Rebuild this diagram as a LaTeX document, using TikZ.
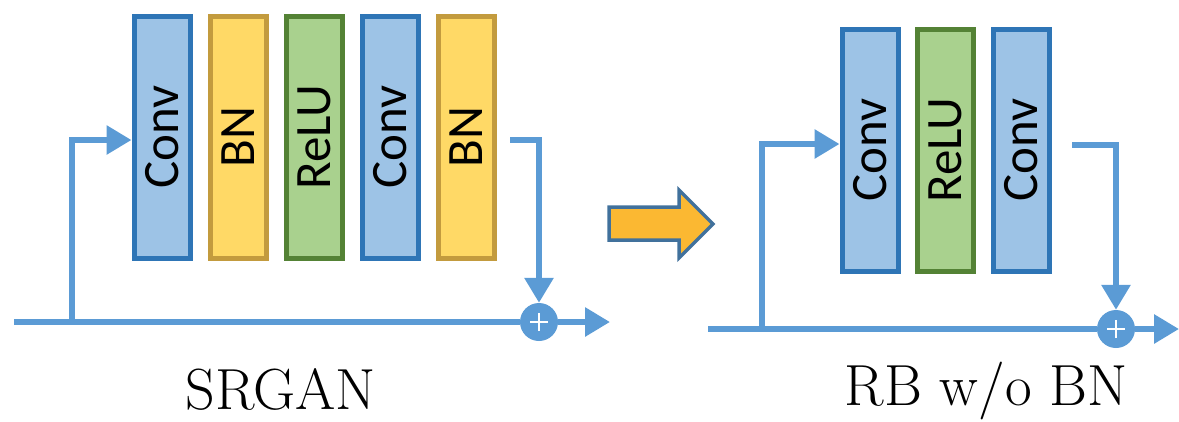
\documentclass[tikz,border=0pt]{standalone}
\usepackage{fontspec}
\newfontfamily\blockfont{Carlito}
\usetikzlibrary{arrows.meta}

\definecolor{convfill}{HTML}{9DC3E6}
\definecolor{convline}{HTML}{2E75B6}
\definecolor{bnfill}{HTML}{FFD966}
\definecolor{bnline}{HTML}{C39B3E}
\definecolor{relufill}{HTML}{A9D18E}
\definecolor{reluline}{HTML}{548235}
\definecolor{flow}{HTML}{5B9BD5}
\definecolor{bigfill}{HTML}{FBB832}
\definecolor{bigline}{HTML}{41719C}

\begin{document}
\begin{tikzpicture}[x=1pt, y=-1pt,
    layer/.style={rectangle, line width=5pt, minimum width=56pt, minimum height=242pt,
        inner sep=0pt, font=\blockfont\fontsize{51}{60}\selectfont},
    conv/.style={layer, fill=convfill, draw=convline},
    bn/.style={layer, fill=bnfill, draw=bnline},
    relu/.style={layer, fill=relufill, draw=reluline},
    flowline/.style={flow, line width=6pt},
    flowarrow/.style={flowline, -{Triangle[length=25pt, width=28pt]}},
    sum/.style={circle, fill=flow, minimum size=38pt, inner sep=0pt,
        path picture={\draw[white, line width=2.5pt]
            ([xshift=-9pt]path picture bounding box.center) -- ([xshift=9pt]path picture bounding box.center)
            ([yshift=-9pt]path picture bounding box.center) -- ([yshift=9pt]path picture bounding box.center);}},
    caption/.style={anchor=base, inner sep=0pt, font=\fontsize{58}{68}\selectfont}]
    \useasboundingbox (0,0) rectangle (1179,421);

    % SRGAN residual block
    \node[conv] (conv1a) at (162,137) {\rotatebox{90}{Conv}};
    \node[bn]   (bn1a)   at (238,137) {\rotatebox{90}{BN}};
    \node[relu] (relu1)  at (314,137) {\rotatebox{90}{ReLU}};
    \node[conv] (conv1b) at (390,137) {\rotatebox{90}{Conv}};
    \node[bn]   (bn1b)   at (466,137) {\rotatebox{90}{BN}};

    \coordinate (in1) at (14,322);
    \coordinate (br1) at (72,322);
    \coordinate (tap1) at (510,140);
    \coordinate (out1) at (610,322);
    \node[sum] (sum1) at (539,322) {};

    \draw[flowline] (in1) -- (sum1);
    \draw[flowarrow] (sum1) -- (out1);
    \draw[flowarrow] (br1) |- ([yshift=-3pt]conv1a.west);
    \draw[flowarrow] (tap1) -| (sum1);

    \node[caption] (srgan) at (281,409) {SRGAN};

    % big arrow
    \draw[fill=bigfill, draw=bigline, line width=3.5pt, line join=miter]
        (609,207) -- (679,207) -- (679,190) -- (713,224) -- (679,258) -- (679,240) -- (609,240) -- cycle;

    % residual block without BN
    \node[conv] (conv2a) at (870,150) {\rotatebox{90}{Conv}};
    \node[relu] (relu2)  at (945,150) {\rotatebox{90}{ReLU}};
    \node[conv] (conv2b) at (1021,150) {\rotatebox{90}{Conv}};

    \coordinate (in2) at (708,329);
    \coordinate (br2) at (762,329);
    \coordinate (tap2) at (1072,145);
    \coordinate (out2) at (1179,329);
    \node[sum] (sum2) at (1116,329) {};

    \draw[flowline] (in2) -- (sum2);
    \draw[flowarrow] (sum2) -- (out2);
    \draw[flowarrow] (br2) |- ([yshift=6pt]conv2a.west);
    \draw[flowarrow] (tap2) -| (sum2);

    \node[caption] (rbnobn) at (986,405) {RB w/o BN};
\end{tikzpicture}
\end{document}
